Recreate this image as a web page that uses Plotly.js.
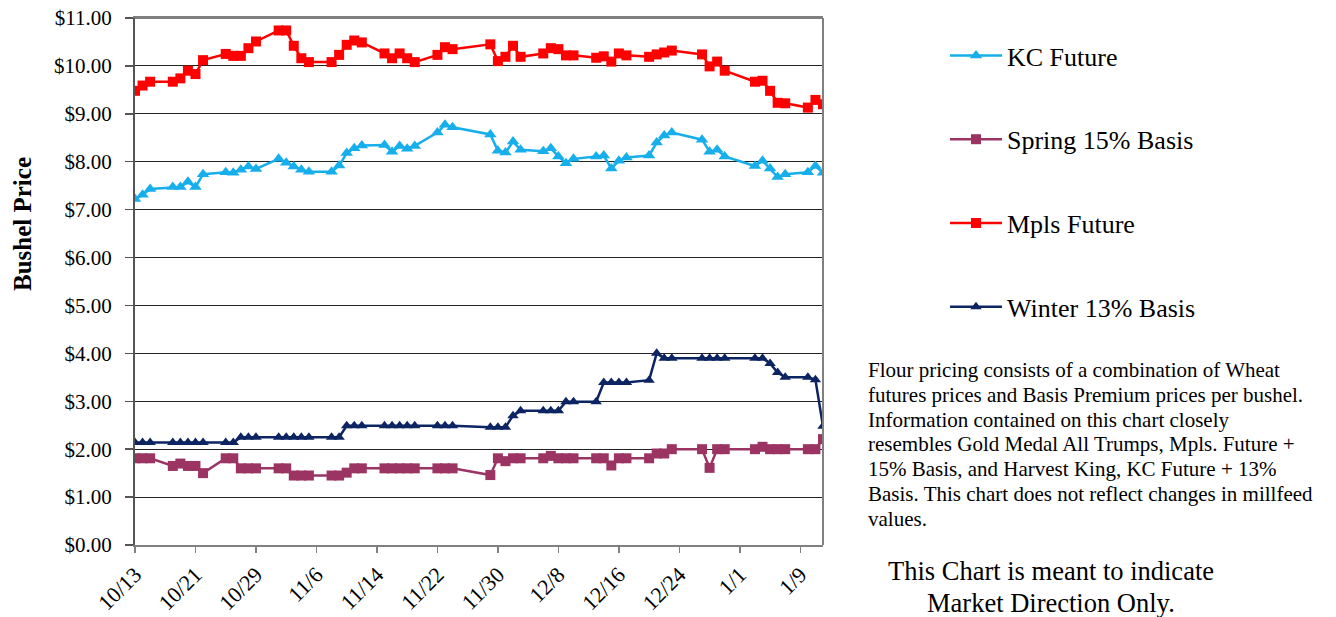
<!DOCTYPE html>
<html>
<head>
<meta charset="utf-8">
<script src="https://cdn.plot.ly/plotly-3.0.1.min.js"></script>
<style>
html,body{margin:0;padding:0;background:#fff;}
#chart{width:1336px;height:617px;}
</style>
</head>
<body>
<div id="chart"></div>
<script>
// Trading dates (weekdays, Oct 2010 - Jan 2011)
const dates = [
 '2010-10-13','2010-10-14','2010-10-15',
 '2010-10-18','2010-10-19','2010-10-20','2010-10-21','2010-10-22',
 '2010-10-25','2010-10-26','2010-10-27','2010-10-28','2010-10-29',
 '2010-11-01','2010-11-02','2010-11-03','2010-11-04','2010-11-05',
 '2010-11-08','2010-11-09','2010-11-10','2010-11-11','2010-11-12',
 '2010-11-15','2010-11-16','2010-11-17','2010-11-18','2010-11-19',
 '2010-11-22','2010-11-23','2010-11-24',
 '2010-11-29','2010-11-30','2010-12-01','2010-12-02','2010-12-03',
 '2010-12-06','2010-12-07','2010-12-08','2010-12-09','2010-12-10',
 '2010-12-13','2010-12-14','2010-12-15','2010-12-16','2010-12-17',
 '2010-12-20','2010-12-21','2010-12-22','2010-12-23',
 '2010-12-27','2010-12-28','2010-12-29','2010-12-30',
 '2011-01-03','2011-01-04','2011-01-05','2011-01-06','2011-01-07',
 '2011-01-10','2011-01-11','2011-01-12'
];

const kcFuture = [
 7.22,7.31,7.43,
 7.47,7.47,7.58,7.47,7.74,
 7.78,7.77,7.83,7.90,7.85,
 8.06,7.98,7.90,7.83,7.79,
 7.79,7.92,8.18,8.28,8.34,
 8.35,8.21,8.33,8.27,8.33,
 8.61,8.77,8.72,
 8.57,8.23,8.19,8.42,8.25,
 8.22,8.28,8.11,7.97,8.06,
 8.11,8.13,7.86,8.02,8.09,
 8.13,8.40,8.55,8.61,
 8.46,8.21,8.25,8.11,
 7.91,8.02,7.86,7.68,7.74,
 7.78,7.91,7.77
];

const spring15 = [
 1.81,1.81,1.81,
 1.65,1.70,1.65,1.65,1.50,
 1.81,1.81,1.60,1.60,1.60,
 1.60,1.60,1.45,1.45,1.45,
 1.45,1.45,1.51,1.60,1.60,
 1.60,1.60,1.60,1.60,1.60,
 1.60,1.60,1.60,
 1.46,1.81,1.75,1.81,1.81,
 1.81,1.86,1.81,1.81,1.81,
 1.81,1.81,1.66,1.81,1.81,
 1.81,1.91,1.91,2.00,
 2.00,1.61,2.00,2.00,
 2.00,2.05,2.00,2.00,2.00,
 2.00,2.00,2.21
];

const mplsFuture = [
 9.48,9.59,9.67,
 9.67,9.74,9.90,9.83,10.12,
 10.25,10.21,10.21,10.37,10.51,
 10.74,10.74,10.42,10.16,10.08,
 10.08,10.23,10.44,10.53,10.49,
 10.26,10.16,10.26,10.16,10.08,
 10.23,10.39,10.35,
 10.45,10.10,10.19,10.42,10.19,
 10.26,10.37,10.35,10.22,10.22,
 10.17,10.20,10.09,10.26,10.22,
 10.19,10.24,10.28,10.32,
 10.24,9.99,10.09,9.90,
 9.67,9.69,9.48,9.23,9.22,
 9.13,9.29,9.20
];

const winter13 = [
 2.14,2.14,2.14,
 2.14,2.14,2.14,2.14,2.14,
 2.14,2.14,2.25,2.25,2.25,
 2.25,2.25,2.25,2.25,2.25,
 2.25,2.25,2.49,2.49,2.49,
 2.49,2.49,2.49,2.49,2.49,
 2.49,2.49,2.49,
 2.46,2.46,2.46,2.70,2.80,
 2.80,2.80,2.80,2.99,2.99,
 2.99,3.39,3.39,3.39,3.39,
 3.44,4.00,3.90,3.90,
 3.90,3.90,3.90,3.90,
 3.90,3.90,3.79,3.60,3.50,
 3.50,3.45,2.48
];

const seriesNames = ['KC Future','Spring 15% Basis','Mpls Future','Winter 13% Basis'];
const yTitle = 'Bushel Price';

const noteLines = [
 'Flour pricing consists of a combination of Wheat',
 'futures prices and Basis Premium prices per bushel.',
 'Information contained on this chart closely',
 'resembles Gold Medal All Trumps, Mpls. Future +',
 '15% Basis, and Harvest King, KC Future + 13%',
 'Basis. This chart does not reflect changes in millfeed',
 'values.'
];
const disclaimerLines = ['This Chart is meant to indicate', 'Market Direction Only.'];

const FONT = 'Liberation Serif';

// plot-area geometry helpers (pixel -> paper)
const PL = 135, PR = 823, PT = 18, PB = 545;
const px = p => (p - PL) / (PR - PL);
const py = p => (PB - p) / (PB - PT);

function mk(name, y, color, symbol, size, group) {
  return {
    type: 'scatter', mode: 'lines+markers', name: name, x: dates, y: y,
    legendgroup: group,
    line: {color: color, width: 2.5},
    marker: {color: color, symbol: symbol, size: size, line: {width: 0}},
    hoverinfo: 'x+y+name'
  };
}

const data = [
  mk(seriesNames[0], kcFuture, '#16AEEB', 'triangle-up', 11, 'g1'),
  mk(seriesNames[1], spring15, '#9B3463', 'square', 10, 'g2'),
  mk(seriesNames[2], mplsFuture, '#FF0000', 'square', 10, 'g3'),
  mk(seriesNames[3], winter13, '#0C2462', 'triangle-up', 10, 'g4')
];

const annotations = [];
noteLines.forEach((t, i) => annotations.push({
  xref: 'paper', yref: 'paper', x: px(866), y: py(370 + i * 24.8),
  xanchor: 'left', yanchor: 'middle', align: 'left', showarrow: false,
  text: t, font: {family: FONT, size: 21, color: '#000'}
}));
disclaimerLines.forEach((t, i) => annotations.push({
  xref: 'paper', yref: 'paper', x: px(1051), y: py(571 + i * 31.5),
  xanchor: 'center', yanchor: 'middle', align: 'center', showarrow: false,
  text: t, font: {family: FONT, size: 26.5, color: '#000'}
}));
annotations.push({
  xref: 'paper', yref: 'paper', x: px(22), y: py(224),
  xanchor: 'center', yanchor: 'middle', textangle: -90, showarrow: false,
  text: '<b>' + yTitle + '</b>', font: {family: FONT, size: 25, color: '#000'}
});

const layout = {
  width: 1336, height: 617,
  margin: {l: PL, r: 1336 - PR, t: PT, b: 617 - PB, pad: 0},
  paper_bgcolor: '#ffffff', plot_bgcolor: '#ffffff',
  font: {family: FONT, size: 20, color: '#000'},
  showlegend: true,
  legend: {
    x: px(945), xanchor: 'left', y: py(32), yanchor: 'top',
    font: {family: FONT, size: 26, color: '#000'},
    tracegroupgap: 47, itemwidth: 52, bgcolor: 'rgba(0,0,0,0)'
  },
  xaxis: {
    type: 'date',
    range: ['2010-10-13', '2011-01-12'],
    tick0: '2010-10-13', dtick: 8 * 86400000,
    tickformat: '%-m/%-d', tickangle: -45,
    tickfont: {family: FONT, size: 22, color: '#000'},
    ticks: 'outside', ticklen: 6, tickcolor: '#808080', tickwidth: 1.5,
    showgrid: false, zeroline: false,
    showline: true, linecolor: '#808080', linewidth: 2, mirror: true
  },
  yaxis: {
    range: [0, 11], dtick: 1, tickprefix: '$', tickformat: '.2f',
    tickfont: {family: FONT, size: 21, color: '#000'},
    ticks: 'outside', ticklen: 8, tickcolor: '#555', tickwidth: 1.5,
    ticklabelstandoff: 9,
    showgrid: true, gridcolor: '#222', gridwidth: 1,
    zeroline: false,
    showline: true, linecolor: '#555', linewidth: 2
  },
  shapes: [
    {type: 'line', xref: 'paper', yref: 'paper', x0: 1, x1: 1, y0: 0, y1: 1,
     line: {color: '#808080', width: 2}},
    {type: 'line', xref: 'paper', yref: 'paper', x0: 0, x1: 1, y0: 1, y1: 1,
     line: {color: '#808080', width: 2}}
  ],
  annotations: annotations
};

Plotly.newPlot('chart', data, layout, {displayModeBar: false, staticPlot: true});
</script>
</body>
</html>
